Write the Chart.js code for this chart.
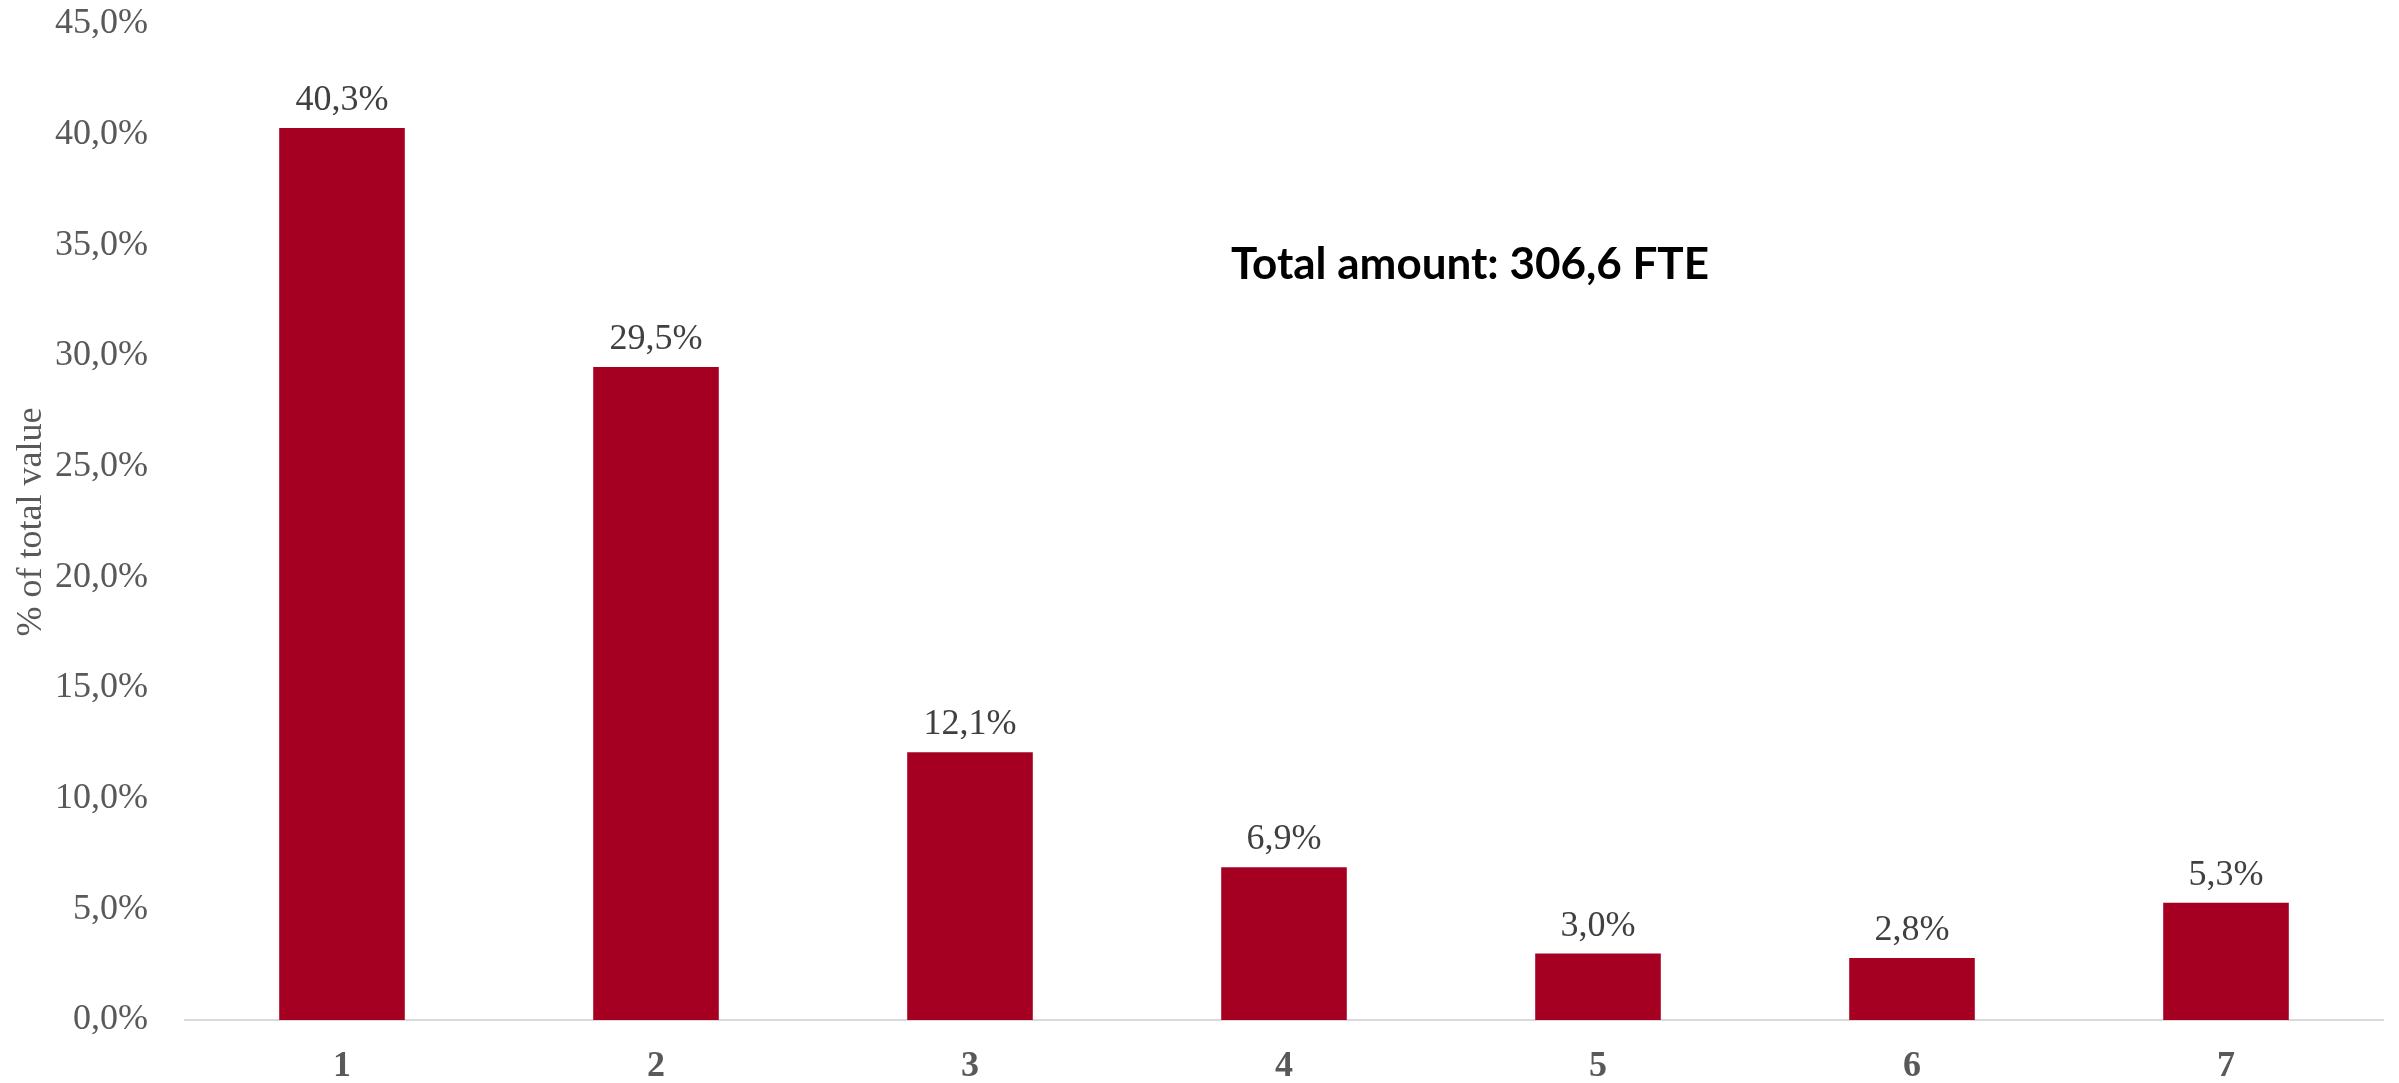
<!DOCTYPE html>
<html>
<head>
<meta charset="utf-8">
<script src="https://cdn.jsdelivr.net/npm/chart.js@4.4.0/dist/chart.umd.min.js"></script>
<style>
  html, body { margin: 0; padding: 0; background: #ffffff; }
  #wrap { position: relative; width: 2399px; height: 1083px; }
  canvas { display: block; }
</style>
</head>
<body>
<div id="wrap"><canvas id="c" width="2399" height="1083"></canvas></div>
<script>
const categories = ['1', '2', '3', '4', '5', '6', '7'];
const shareValues = [40.3, 29.5, 12.1, 6.9, 3.0, 2.8, 5.3];
const yTickMax = 45;
const yTickStep = 5;
const yAxisTitle = '% of total value';
const annotationText = 'Total amount: 306,6 FTE';

function fmtPct(v) {
  return v.toFixed(1).replace('.', ',') + '%';
}

const barLabelPlugin = {
  id: 'barLabels',
  afterDatasetsDraw(chart) {
    const ctx = chart.ctx;
    const meta = chart.getDatasetMeta(0);
    ctx.save();
    ctx.font = '36px "Liberation Serif", "Times New Roman", serif';
    ctx.fillStyle = '#404040';
    ctx.textAlign = 'center';
    ctx.textBaseline = 'alphabetic';
    meta.data.forEach((bar, i) => {
      ctx.fillText(fmtPct(shareValues[i]), bar.x, bar.y - 18);
    });
    ctx.restore();
  }
};

const annotationPlugin = {
  id: 'annotation',
  afterDraw(chart) {
    const ctx = chart.ctx;
    const xs = chart.scales.x;
    const ys = chart.scales.y;
    ctx.save();
    ctx.font = 'bold 44px Lato, "Open Sans", sans-serif';
    ctx.fillStyle = '#000000';
    ctx.textAlign = 'center';
    ctx.textBaseline = 'middle';
    const cx = (xs.getPixelForValue(3) + xs.getPixelForValue(4)) / 2 + 29;
    const cy = ys.getPixelForValue(34.1);
    ctx.fillText(annotationText, cx, cy);
    ctx.restore();
  }
};

new Chart(document.getElementById('c'), {
  type: 'bar',
  data: {
    labels: categories,
    datasets: [{
      data: shareValues,
      backgroundColor: '#A50021',
      borderWidth: 0,
      barPercentage: 0.4,
      categoryPercentage: 1.0
    }]
  },
  options: {
    responsive: false,
    animation: false,
    devicePixelRatio: 1,
    layout: { padding: { top: 24, right: 16, left: 0, bottom: 0 } },
    plugins: {
      legend: { display: false },
      tooltip: { enabled: false }
    },
    scales: {
      x: {
        grid: { display: false, drawTicks: false },
        border: { display: true, color: '#d9d9d9', width: 2 },
        ticks: {
          color: '#595959',
          padding: 25,
          font: { family: '"Liberation Serif", "Times New Roman", serif', size: 36, weight: 'bold' }
        },
        afterFit(scale) {
          scale.height = 1083 - 1020;
          scale.paddingLeft = 0; scale.paddingRight = 0;
        }
      },
      y: {
        min: 0,
        max: yTickMax,
        grid: { display: false, drawTicks: false },
        border: { display: false },
        ticks: {
          stepSize: yTickStep,
          color: '#595959',
          padding: 37,
          font: { family: '"Liberation Serif", "Times New Roman", serif', size: 36 },
          callback: (v) => fmtPct(v)
        },
        title: {
          display: true,
          text: yAxisTitle,
          color: '#595959',
          padding: { top: 10, bottom: 0 },
          font: { family: '"Liberation Serif", "Times New Roman", serif', size: 36 }
        },
        afterFit(scale) {
          scale.width = 185;
          scale.paddingTop = 0; scale.paddingBottom = 0;
        }
      }
    }
  },
  plugins: [barLabelPlugin, annotationPlugin]
});
</script>
</body>
</html>
